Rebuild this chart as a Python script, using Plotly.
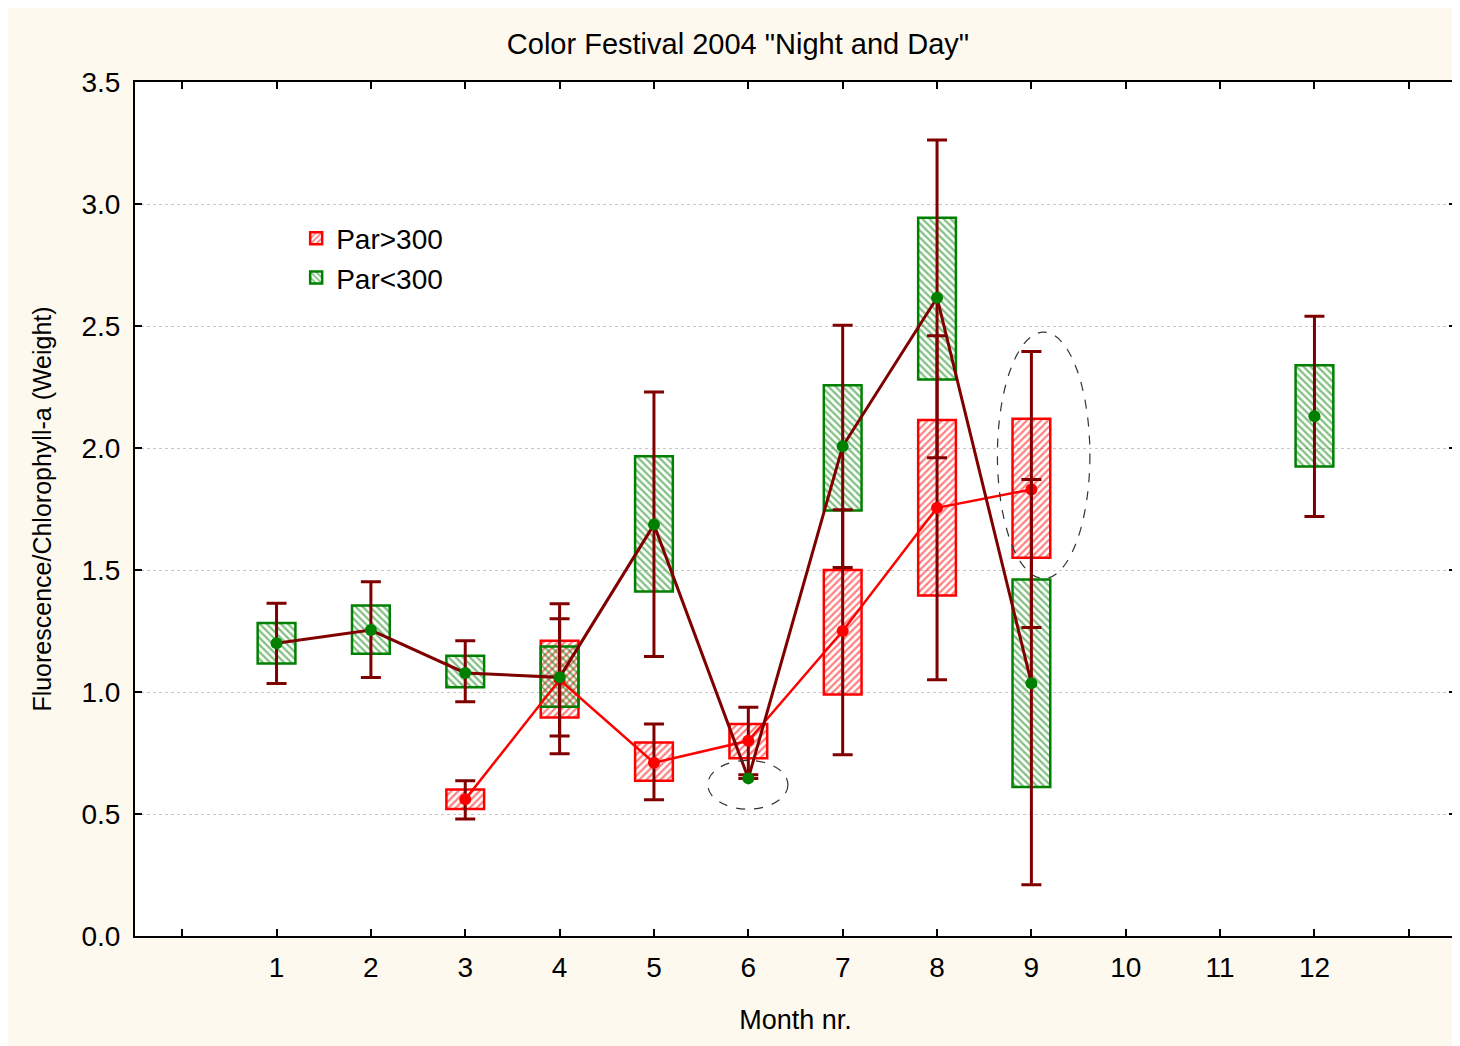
import plotly.graph_objects as go

# Par>300 (red boxes)
hi_months = [3, 4, 5, 6, 7, 8, 9]
hi_mean = [0.56, 1.05, 0.71, 0.80, 1.25, 1.755, 1.83]
hi_box_lo = [0.52, 0.895, 0.636, 0.728, 0.99, 1.395, 1.55]
hi_box_hi = [0.60, 1.21, 0.793, 0.869, 1.50, 2.115, 2.12]
hi_wlo = [0.48, 0.747, 0.558, 0.661, 0.743, 1.05, 1.264]
hi_whi = [0.636, 1.30, 0.869, 0.937, 1.747, 2.46, 2.396]

# Par<300 (green boxes)
lo_months = [1, 2, 3, 4, 5, 6, 7, 8, 9, 10, 11, 12]
lo_mean = [1.20, 1.254, 1.078, 1.06, 1.686, 0.646, 2.007, 2.616, 1.036, None, None, 2.13]
lo_box_lo = [1.117, 1.157, 1.019, 0.94, 1.412, None, 1.744, 2.281, 0.611, None, None, 1.924]
lo_box_hi = [1.283, 1.354, 1.149, 1.186, 1.966, None, 2.257, 2.944, 1.461, None, None, 2.339]
lo_wlo = [1.035, 1.059, 0.96, 0.82, 1.145, None, 1.51, 1.96, 0.21, None, None, 1.719]
lo_whi = [1.364, 1.452, 1.21, 1.362, 2.229, None, 2.503, 3.262, 1.871, None, None, 2.54]

tick_vals = list(range(0, 14))
tick_text = [""] + [str(m) for m in range(1, 13)] + [""]

# dashed ellipses highlighting points: (x0, x1, y0, y1)
ellipses = [(5.57, 6.42, 0.52, 0.72), (8.64, 9.62, 1.465, 2.475)]

RED = "#FF0000"
GREEN = "#008000"
BROWN = "#800000"


def box_trace(name, x, lo, hi, color, shape):
    base = [l if l is not None else 0 for l in lo]
    h = [(b - a) if (a is not None and b is not None) else None for a, b in zip(lo, hi)]
    return go.Bar(
        x=x, y=h, base=base, name=name, width=0.4,
        marker=dict(color="rgba(0,0,0,0)",
                    line=dict(color=color, width=2.5),
                    pattern=dict(shape=shape, fgcolor=color, bgcolor="rgba(0,0,0,0)",
                                 size=5, solidity=0.45, fillmode="overlay")),
    )


def err(mean, wlo, whi):
    up = [(b - m) if (m is not None and b is not None) else None for m, b in zip(mean, whi)]
    dn = [(m - a) if (m is not None and a is not None) else None for m, a in zip(mean, wlo)]
    return up, dn


fig = go.Figure()
fig.add_trace(box_trace("Par>300", hi_months, hi_box_lo, hi_box_hi, RED, "/"))
fig.add_trace(box_trace("Par<300", lo_months, lo_box_lo, lo_box_hi, GREEN, "\\"))

# mean lines
fig.add_trace(go.Scatter(x=hi_months, y=hi_mean, mode="lines", line=dict(color=RED, width=2.5),
                         showlegend=False))
fig.add_trace(go.Scatter(x=lo_months, y=lo_mean, mode="lines", line=dict(color=BROWN, width=3),
                         connectgaps=False, showlegend=False))

# whiskers + mean markers
for months, mean, wlo, whi, col in [(hi_months, hi_mean, hi_wlo, hi_whi, RED),
                                    (lo_months, lo_mean, lo_wlo, lo_whi, GREEN)]:
    up, dn = err(mean, wlo, whi)
    fig.add_trace(go.Scatter(
        x=months, y=mean, mode="markers", showlegend=False,
        marker=dict(color=col, size=12),
        error_y=dict(type="data", array=up, arrayminus=dn, symmetric=False,
                     color=BROWN, thickness=3, width=10),
    ))

for x0, x1, y0, y1 in ellipses:
    fig.add_shape(type="circle", xref="x", yref="y", x0=x0, x1=x1, y0=y0, y1=y1,
                  line=dict(color="#333333", width=1.2, dash="dash"))

fig.update_layout(
    width=1460, height=1046,
    paper_bgcolor="#FEF9EE", plot_bgcolor="white",
    font=dict(family="Liberation Sans, Arial, sans-serif", size=28, color="black"),
    title=dict(text='Color Festival 2004 "Night and Day"', x=0.5, xanchor="center",
               y=0.9656, yanchor="middle", font=dict(size=29)),
    margin=dict(l=127, r=10, t=74, b=118),
    barmode="overlay",
    showlegend=True,
    legend=dict(x=0.122, y=0.846, xanchor="left", yanchor="top", bgcolor="rgba(0,0,0,0)",
                font=dict(size=28), tracegroupgap=0),
)
fig.update_xaxes(range=[-0.5, 13.5], tickvals=tick_vals, ticktext=tick_text,
                 ticks="inside", ticklen=7, tickwidth=2, tickcolor="black",
                 ticklabelstandoff=5,
                 showline=True, linecolor="black", linewidth=2, mirror="allticks",
                 showgrid=False, zeroline=False,
                 title=dict(text="Month nr.", standoff=29, font=dict(size=27)))
fig.update_yaxes(range=[0, 3.5], dtick=0.5, tickformat=".1f",
                 ticks="inside", ticklen=7, tickwidth=2, tickcolor="black",
                 ticklabelstandoff=7,
                 showline=True, linecolor="black", linewidth=2, mirror="allticks",
                 showgrid=True, gridcolor="#C8C8C8", griddash="dot", gridwidth=1,
                 zeroline=False,
                 title=dict(text="Fluorescence/Chlorophyll-a (Weight)", standoff=23,
                            font=dict(size=25)))

fig.write_html("out.html")
